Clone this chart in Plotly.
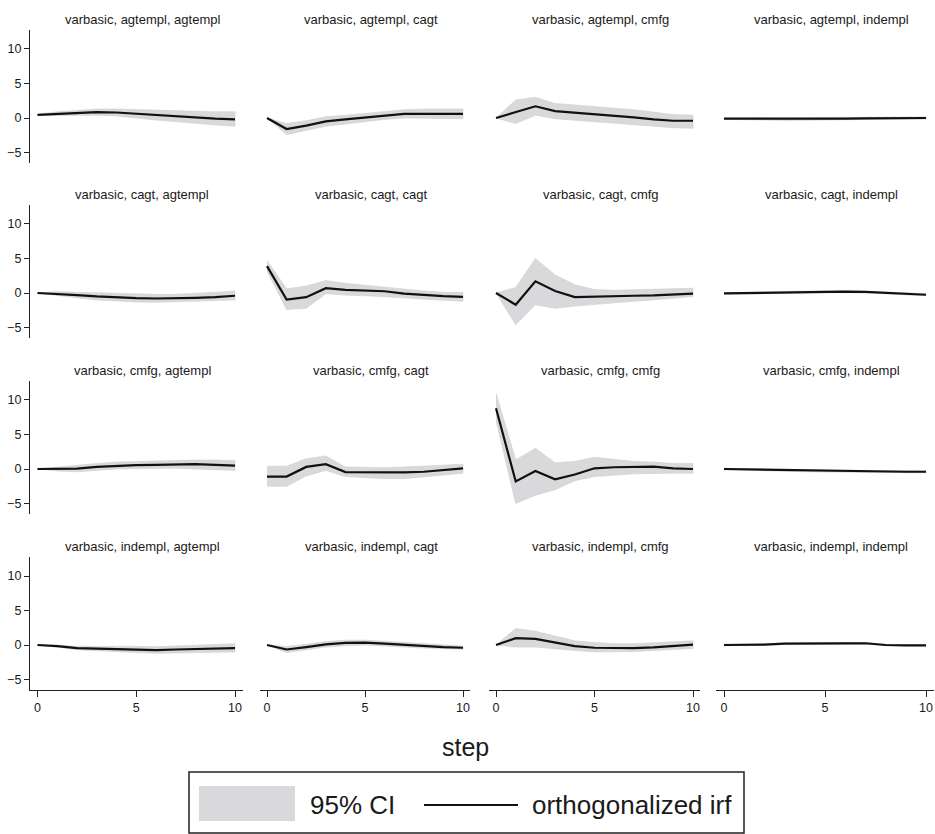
import plotly.graph_objects as go

steps = list(range(11))
vars_ = ["agtempl", "cagt", "cmfg", "indempl"]

# impulse agtempl
irf_agtempl_agtempl = [0.45, 0.6, 0.75, 0.85, 0.8, 0.6, 0.4, 0.3, 0.1, -0.1, -0.2]
lo_agtempl_agtempl = [0.35, 0.3, 0.35, 0.4, 0.3, 0.0, -0.3, -0.5, -0.8, -1.0, -1.2]
hi_agtempl_agtempl = [0.55, 0.9, 1.1, 1.3, 1.3, 1.2, 1.1, 1.0, 1.0, 0.9, 0.9]

irf_agtempl_cagt = [0, -1.6, -1.1, -0.5, -0.2, 0.1, 0.4, 0.6, 0.6, 0.6, 0.6]
lo_agtempl_cagt = [0, -2.4, -1.8, -1.2, -0.8, -0.5, -0.2, 0.0, -0.1, -0.1, -0.1]
hi_agtempl_cagt = [0, -0.8, -0.4, 0.2, 0.4, 0.7, 1.0, 1.2, 1.3, 1.3, 1.3]

irf_agtempl_cmfg = [0, 0.8, 1.7, 1.0, 0.8, 0.6, 0.3, 0.1, -0.2, -0.4, -0.4]
lo_agtempl_cmfg = [0, -0.8, 0.4, -0.1, -0.3, -0.5, -0.8, -1.0, -1.2, -1.4, -1.5]
hi_agtempl_cmfg = [0, 2.6, 3.0, 2.1, 1.9, 1.6, 1.4, 1.2, 0.8, 0.5, 0.4]

irf_agtempl_indempl = [-0.1, -0.1, -0.15, -0.2, -0.2, -0.15, -0.1, -0.05, 0.0, 0.0, 0.0]
lo_agtempl_indempl = [-0.2, -0.25, -0.3, -0.35, -0.35, -0.3, -0.25, -0.2, -0.15, -0.15, -0.15]
hi_agtempl_indempl = [0.0, 0.05, 0.0, -0.05, -0.05, 0.0, 0.05, 0.1, 0.15, 0.15, 0.15]

# impulse cagt
irf_cagt_agtempl = [0, -0.1, -0.3, -0.5, -0.65, -0.75, -0.8, -0.8, -0.7, -0.6, -0.4]
lo_cagt_agtempl = [0, -0.4, -0.7, -1.0, -1.2, -1.3, -1.35, -1.3, -1.2, -1.1, -1.0]
hi_cagt_agtempl = [0, 0.2, 0.1, 0.0, -0.1, -0.15, -0.2, -0.2, -0.1, 0.1, 0.3]

irf_cagt_cagt = [3.9, -0.95, -0.6, 0.7, 0.45, 0.3, 0.25, -0.1, -0.3, -0.45, -0.55]
lo_cagt_cagt = [3.2, -2.4, -2.2, -0.1, -0.3, -0.4, -0.5, -0.7, -0.9, -1.1, -1.2]
hi_cagt_cagt = [4.7, 0.6, 1.0, 1.8, 1.4, 1.1, 0.9, 0.6, 0.3, 0.1, 0.1]

irf_cagt_cmfg = [0, -1.7, 1.7, 0.3, -0.6, -0.5, -0.4, -0.4, -0.35, -0.2, -0.1]
lo_cagt_cmfg = [0, -4.6, -1.7, -2.2, -1.9, -1.7, -1.4, -1.2, -1.0, -0.8, -0.5]
hi_cagt_cmfg = [0, 0.8, 5.0, 2.6, 1.2, 0.5, 0.4, 0.5, 0.5, 0.6, 0.7]

irf_cagt_indempl = [-0.05, 0.0, 0.05, 0.15, 0.2, 0.2, 0.2, 0.15, 0.0, -0.1, -0.25]
lo_cagt_indempl = [-0.15, -0.12, -0.08, 0.02, 0.06, 0.06, 0.06, 0.0, -0.15, -0.25, -0.4]
hi_cagt_indempl = [0.05, 0.12, 0.18, 0.28, 0.34, 0.34, 0.34, 0.3, 0.15, 0.05, -0.1]

# impulse cmfg
irf_cmfg_agtempl = [0, 0, 0.05, 0.3, 0.45, 0.55, 0.6, 0.7, 0.7, 0.6, 0.5]
lo_cmfg_agtempl = [0, -0.3, -0.4, -0.2, 0.0, 0.05, 0.1, 0.1, 0.05, -0.1, -0.2]
hi_cmfg_agtempl = [0, 0.3, 0.5, 0.8, 1.0, 1.1, 1.2, 1.3, 1.3, 1.3, 1.2]

irf_cmfg_cagt = [-1.1, -1.1, 0.3, 0.7, -0.45, -0.5, -0.5, -0.5, -0.4, -0.2, 0.1]
lo_cmfg_cagt = [-2.5, -2.5, -1.0, -0.2, -1.1, -1.3, -1.4, -1.4, -1.2, -0.9, -0.6]
hi_cmfg_cagt = [0.4, 0.4, 1.5, 1.9, 0.3, 0.2, 0.2, 0.3, 0.4, 0.5, 0.7]

irf_cmfg_cmfg = [8.8, -1.8, -0.3, -1.5, -0.8, 0.1, 0.25, 0.3, 0.35, 0.1, 0.0]
lo_cmfg_cmfg = [7.0, -5.0, -3.8, -3.0, -1.7, -1.1, -0.9, -0.7, -0.6, -0.6, -0.6]
hi_cmfg_cmfg = [11.0, 1.3, 3.0, 0.9, 1.1, 1.7, 1.4, 1.1, 1.0, 0.8, 0.8]

irf_cmfg_indempl = [0, -0.05, -0.1, -0.2, -0.25, -0.3, -0.35, -0.35, -0.4, -0.4, -0.4]
lo_cmfg_indempl = [-0.1, -0.17, -0.23, -0.33, -0.4, -0.45, -0.5, -0.5, -0.55, -0.55, -0.55]
hi_cmfg_indempl = [0.1, 0.07, 0.03, -0.07, -0.1, -0.15, -0.2, -0.2, -0.25, -0.25, -0.25]

# impulse indempl
irf_indempl_agtempl = [0, -0.15, -0.45, -0.5, -0.6, -0.65, -0.75, -0.65, -0.6, -0.55, -0.45]
lo_indempl_agtempl = [0, -0.3, -0.7, -0.9, -1.0, -1.1, -1.2, -1.15, -1.1, -1.0, -1.0]
hi_indempl_agtempl = [0, 0.0, -0.2, -0.15, -0.2, -0.2, -0.25, -0.15, -0.05, 0.1, 0.2]

irf_indempl_cagt = [0, -0.65, -0.3, 0.1, 0.3, 0.35, 0.2, 0.0, -0.15, -0.3, -0.4]
lo_indempl_cagt = [0, -1.1, -0.7, -0.3, -0.1, 0.0, -0.1, -0.3, -0.45, -0.55, -0.6]
hi_indempl_cagt = [0, -0.2, 0.1, 0.5, 0.7, 0.7, 0.55, 0.35, 0.15, 0.0, -0.15]

irf_indempl_cmfg = [0, 1.0, 0.9, 0.4, -0.15, -0.4, -0.45, -0.45, -0.35, -0.15, 0.05]
lo_indempl_cmfg = [0, -0.3, -0.3, -0.6, -0.8, -1.0, -1.0, -0.95, -0.8, -0.6, -0.5]
hi_indempl_cmfg = [0, 2.4, 2.0, 1.3, 0.6, 0.35, 0.2, 0.2, 0.3, 0.5, 0.6]

irf_indempl_indempl = [0, 0.0, 0.05, 0.2, 0.25, 0.25, 0.25, 0.25, 0.0, -0.05, -0.05]
lo_indempl_indempl = [-0.08, -0.1, -0.05, 0.1, 0.15, 0.15, 0.15, 0.15, -0.1, -0.15, -0.15]
hi_indempl_indempl = [0.08, 0.1, 0.15, 0.3, 0.35, 0.35, 0.35, 0.35, 0.1, 0.05, 0.05]

irf = {
    ("agtempl", "agtempl"): (irf_agtempl_agtempl, lo_agtempl_agtempl, hi_agtempl_agtempl),
    ("agtempl", "cagt"): (irf_agtempl_cagt, lo_agtempl_cagt, hi_agtempl_cagt),
    ("agtempl", "cmfg"): (irf_agtempl_cmfg, lo_agtempl_cmfg, hi_agtempl_cmfg),
    ("agtempl", "indempl"): (irf_agtempl_indempl, lo_agtempl_indempl, hi_agtempl_indempl),
    ("cagt", "agtempl"): (irf_cagt_agtempl, lo_cagt_agtempl, hi_cagt_agtempl),
    ("cagt", "cagt"): (irf_cagt_cagt, lo_cagt_cagt, hi_cagt_cagt),
    ("cagt", "cmfg"): (irf_cagt_cmfg, lo_cagt_cmfg, hi_cagt_cmfg),
    ("cagt", "indempl"): (irf_cagt_indempl, lo_cagt_indempl, hi_cagt_indempl),
    ("cmfg", "agtempl"): (irf_cmfg_agtempl, lo_cmfg_agtempl, hi_cmfg_agtempl),
    ("cmfg", "cagt"): (irf_cmfg_cagt, lo_cmfg_cagt, hi_cmfg_cagt),
    ("cmfg", "cmfg"): (irf_cmfg_cmfg, lo_cmfg_cmfg, hi_cmfg_cmfg),
    ("cmfg", "indempl"): (irf_cmfg_indempl, lo_cmfg_indempl, hi_cmfg_indempl),
    ("indempl", "agtempl"): (irf_indempl_agtempl, lo_indempl_agtempl, hi_indempl_agtempl),
    ("indempl", "cagt"): (irf_indempl_cagt, lo_indempl_cagt, hi_indempl_cagt),
    ("indempl", "cmfg"): (irf_indempl_cmfg, lo_indempl_cmfg, hi_indempl_cmfg),
    ("indempl", "indempl"): (irf_indempl_indempl, lo_indempl_indempl, hi_indempl_indempl),
}

W, H = 935, 834
FONT = "Liberation Sans, Arial, sans-serif"
TXT = "#1a1a1a"
BAND = "#d9d9dc"


def fx(px):
    return px / W


def fy(py):
    return 1 - py / H


XR = [-0.38, 10.38]
YR = [-6.5, 12.75]
col_t0 = [37.5, 267, 496, 724]
col_t10 = [235, 463, 693, 926]
row_zero = [118, 293, 469, 645]
ppu_y = 6.9

fig = go.Figure()
layout = dict(
    width=W, height=H, margin=dict(l=0, r=0, t=0, b=0),
    paper_bgcolor="white", plot_bgcolor="white", showlegend=False,
    font=dict(family=FONT, color=TXT),
)
annotations = []
shapes = []

for r, imp in enumerate(vars_):
    for c, resp in enumerate(vars_):
        i = r * 4 + c + 1
        sfx = "" if i == 1 else str(i)
        y_, lo, hi = irf[(imp, resp)]
        fig.add_trace(go.Scatter(
            x=steps + steps[::-1], y=hi + lo[::-1], fill="toself",
            fillcolor=BAND, line=dict(width=0.6, color="#cfcfd3"),
            mode="lines", hoverinfo="skip",
            xaxis="x" + sfx, yaxis="y" + sfx))
        fig.add_trace(go.Scatter(
            x=steps, y=y_, mode="lines", line=dict(color="#111111", width=2.2),
            xaxis="x" + sfx, yaxis="y" + sfx))
        t0, t10 = col_t0[c], col_t10[c]
        ppu_x = (t10 - t0) / 10
        x0 = t0 + XR[0] * ppu_x
        x1 = t0 + XR[1] * ppu_x
        z = row_zero[r]
        ytop = z - YR[1] * ppu_y
        ybot = z - YR[0] * ppu_y
        bottom = (r == 3)
        left = (c == 0)
        layout["xaxis" + sfx] = dict(
            domain=[fx(x0), fx(x1)], range=XR, anchor="y" + sfx,
            showgrid=False, zeroline=False, visible=True,
            showline=bottom, linecolor="#222", linewidth=1.3,
            ticks="outside" if bottom else "", ticklen=6, tickwidth=1.2, tickcolor="#222",
            tickvals=[0, 5, 10], showticklabels=bottom,
            tickfont=dict(size=12.5, family=FONT, color=TXT),
        )
        layout["yaxis" + sfx] = dict(
            domain=[fy(ybot), fy(ytop)], range=YR, anchor="x" + sfx,
            showgrid=False, zeroline=False,
            showline=left, linecolor="#222", linewidth=1.3,
            ticks="outside" if left else "", ticklen=5, tickwidth=1.2, tickcolor="#222",
            tickvals=[-5, 0, 5, 10], showticklabels=left,
            tickfont=dict(size=12.5, family=FONT, color=TXT),
        )
        annotations.append(dict(
            text=f"varbasic, {imp}, {resp}", xref="paper", yref="paper",
            x=fx((x0 + x1) / 2 + 6), y=fy(ytop - 11), xanchor="center", yanchor="middle",
            showarrow=False, font=dict(size=13, family=FONT, color=TXT)))

# x title
annotations.append(dict(text="step", xref="paper", yref="paper", x=fx(465), y=fy(747),
                        xanchor="center", yanchor="middle", showarrow=False,
                        font=dict(size=25, family=FONT, color=TXT)))

# legend box
shapes.append(dict(type="rect", xref="paper", yref="paper",
                   x0=fx(189), x1=fx(744), y0=fy(833), y1=fy(772),
                   line=dict(color="#222", width=1.5), fillcolor="white", layer="below"))
shapes.append(dict(type="rect", xref="paper", yref="paper",
                   x0=fx(199), x1=fx(295), y0=fy(821), y1=fy(786),
                   line=dict(width=0), fillcolor=BAND))
shapes.append(dict(type="line", xref="paper", yref="paper",
                   x0=fx(424), x1=fx(518), y0=fy(805), y1=fy(805),
                   line=dict(color="#111", width=2)))
annotations.append(dict(text="95% CI", xref="paper", yref="paper", x=fx(308), y=fy(805),
                        xanchor="left", yanchor="middle", showarrow=False,
                        font=dict(size=26, family=FONT, color=TXT)))
annotations.append(dict(text="orthogonalized irf", xref="paper", yref="paper", x=fx(530), y=fy(805),
                        xanchor="left", yanchor="middle", showarrow=False,
                        font=dict(size=26, family=FONT, color=TXT)))

layout["annotations"] = annotations
layout["shapes"] = shapes
fig.update_layout(**layout)
fig.write_html("out.html")
